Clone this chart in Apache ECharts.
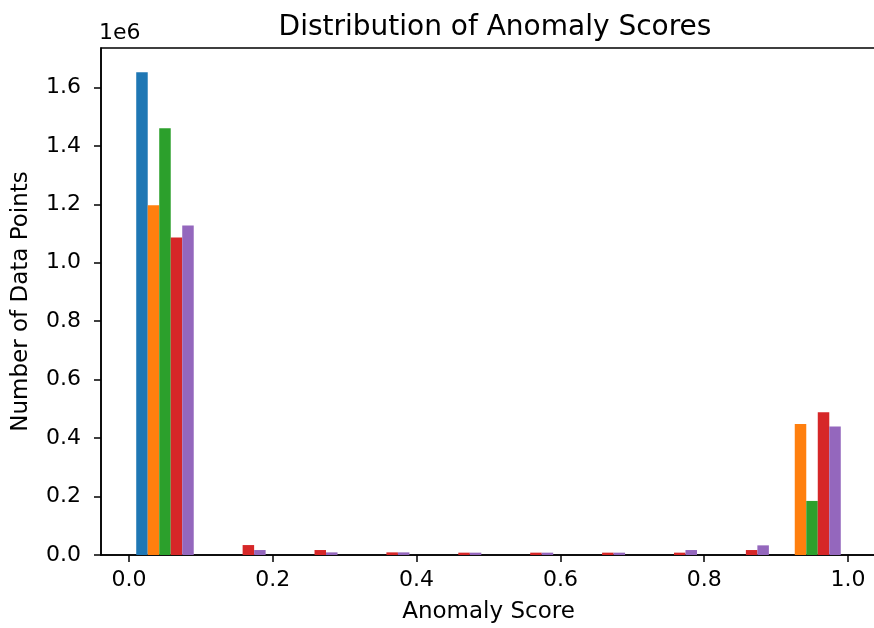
<!DOCTYPE html>
<html>
<head>
<meta charset="utf-8">
<title>Distribution of Anomaly Scores</title>
<script src="https://cdn.jsdelivr.net/npm/echarts@6/dist/echarts.min.js"></script>
<style>
  html, body { margin: 0; padding: 0; background: #fff; }
  #chart { width: 874px; height: 628px; }
</style>
</head>
<body>
<div id="chart"></div>
<script>
// Histogram bin edges (10 equal bins over [0, 1])
const binEdges = [0.0, 0.1, 0.2, 0.3, 0.4, 0.5, 0.6, 0.7, 0.8, 0.9, 1.0];

// Counts per bin for each of the five score sets
const scoresA = [1652000, 0, 0, 0, 0, 0, 0, 0, 0, 0];
const scoresB = [1197000, 0, 0, 0, 0, 0, 0, 0, 0, 448000];
const scoresC = [1460000, 0, 0, 0, 0, 0, 0, 0, 0, 185000];
const scoresD = [1086000, 34000, 17000, 9000, 8000, 8000, 8000, 8000, 17000, 488000];
const scoresE = [1127000, 17000, 9000, 9000, 8000, 8000, 8000, 17000, 33000, 440000];

// Axis tick positions
const xTicks = [0.0, 0.2, 0.4, 0.6, 0.8, 1.0];
const yTicks = [0, 200000, 400000, 600000, 800000, 1000000, 1200000, 1400000, 1600000];

const seriesList = [scoresA, scoresB, scoresC, scoresD, scoresE];
const colors = ['#1f77b4', '#ff7f0e', '#2ca02c', '#d62728', '#9467bd'];

const FONT = 'DejaVu Sans';

// Side-by-side histogram layout: bars fill 80% of each bin, split evenly
const groupFrac = 0.8;
function buildData(values, k) {
  const n = seriesList.length;
  return values.map((v, i) => {
    const w = binEdges[i + 1] - binEdges[i];
    const barW = groupFrac * w / n;
    const start = binEdges[i] + (1 - groupFrac) / 2 * w + k * barW;
    return [start, start + barW, v];
  });
}

function renderBar(params, api) {
  const v = api.value(2);
  if (!v) return null;
  const p0 = api.coord([api.value(0), v]);
  const p1 = api.coord([api.value(1), 0]);
  return {
    type: 'rect',
    shape: { x: p0[0], y: p0[1], width: p1[0] - p0[0], height: p1[1] - p0[1] },
    style: { fill: api.visual('color') }
  };
}

// Data span with 5% margins on the x axis, as the plot is auto-scaled
const dataLo = binEdges[0] + (1 - groupFrac) / 2 * 0.1;
const dataHi = binEdges[binEdges.length - 1] - (1 - groupFrac) / 2 * 0.1;
const xPad = (dataHi - dataLo) * 0.05;
const yMax = Math.max(...seriesList.flat()) * 1.05;

const chart = echarts.init(document.getElementById('chart'), null, { renderer: 'canvas' });

chart.setOption({
  animation: false,
  backgroundColor: '#ffffff',
  textStyle: { fontFamily: FONT, color: '#000' },
  title: {
    text: 'Distribution of Anomaly Scores',
    left: 490, top: 9, textAlign: 'center',
    textStyle: { fontFamily: FONT, fontSize: 28, fontWeight: 'normal', color: '#000' }
  },
  graphic: [{
    type: 'text', left: 99, top: 22,
    style: { text: '1e6', font: '22px "DejaVu Sans"', fill: '#000' }
  }],
  grid: {
    left: 101, width: 775, top: 48, bottom: 73,
    outerBoundsMode: 'none',
    show: true, borderColor: '#000', borderWidth: 1.5, backgroundColor: 'transparent'
  },
  xAxis: {
    type: 'value',
    min: dataLo - xPad, max: dataHi + xPad,
    name: 'Anomaly Score', nameLocation: 'middle', nameGap: 46,
    nameTextStyle: { fontFamily: FONT, fontSize: 23, color: '#000' },
    splitLine: { show: false },
    axisLine: { show: true, onZero: false, lineStyle: { color: '#000', width: 1.5 } },
    axisTick: { show: true, length: 7, customValues: xTicks, lineStyle: { color: '#000', width: 1.5 } },
    axisLabel: {
      customValues: xTicks, margin: 14,
      fontFamily: FONT, fontSize: 22, color: '#000',
      formatter: v => v.toFixed(1)
    }
  },
  yAxis: {
    type: 'value',
    min: 0, max: yMax,
    name: 'Number of Data Points', nameLocation: 'middle', nameGap: 68,
    nameTextStyle: { fontFamily: FONT, fontSize: 23, color: '#000' },
    splitLine: { show: false },
    axisLine: { show: true, onZero: false, lineStyle: { color: '#000', width: 1.5 } },
    axisTick: { show: true, length: 7, customValues: yTicks, lineStyle: { color: '#000', width: 1.5 } },
    axisLabel: {
      customValues: yTicks, margin: 20,
      fontFamily: FONT, fontSize: 22, color: '#000',
      formatter: v => (v / 1e6).toFixed(1)
    }
  },
  series: seriesList.map((vals, k) => ({
    type: 'custom',
    renderItem: renderBar,
    itemStyle: { color: colors[k] },
    encode: { x: [0, 1], y: 2 },
    clip: true,
    data: buildData(vals, k)
  }))
});
</script>
</body>
</html>
